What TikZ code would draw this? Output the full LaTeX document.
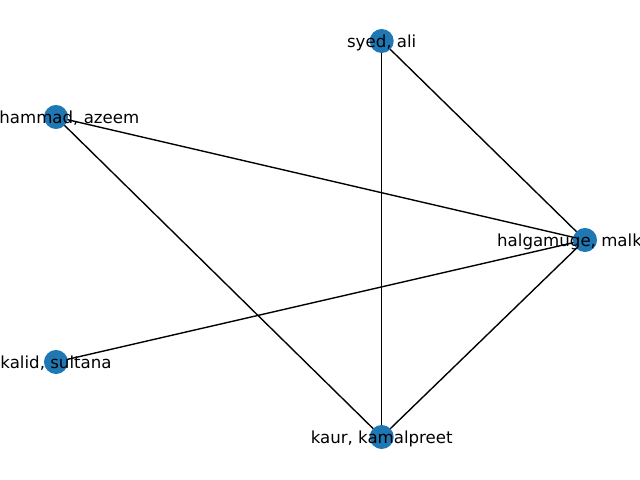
\documentclass[tikz,border=0pt]{standalone}
\usepackage{fontspec}
\setmainfont{DejaVu Sans}
\definecolor{nxblue}{HTML}{1F77B4}
\begin{document}
\begin{tikzpicture}[x=0.01in,y=-0.01in,
  vertex/.style={circle,fill=nxblue,minimum size=0.24in,inner sep=0pt},
  lbl/.style={font=\fontsize{12pt}{14pt}\selectfont,inner sep=0pt,anchor=center,yshift=-0.015in},
  edge/.style={black,line width=1pt}]
\useasboundingbox (0,0) rectangle (640,480);
\clip (0,0) rectangle (640,480);
\coordinate (syed) at (381.7,41);
\coordinate (muh) at (56,117);
\coordinate (hal) at (585,240);
\coordinate (kal) at (56,362);
\coordinate (kaur) at (381.7,437);
\draw[edge] (syed) -- (hal);
\draw[edge] (syed) -- (kaur);
\draw[edge] (muh) -- (hal);
\draw[edge] (muh) -- (kaur);
\draw[edge] (hal) -- (kal);
\draw[edge] (hal) -- (kaur);
\node[vertex] (nsyed) at (syed) {};
\node[vertex] (nmuh) at (muh) {};
\node[vertex] (nhal) at (hal) {};
\node[vertex] (nkal) at (kal) {};
\node[vertex] (nkaur) at (kaur) {};
\node[lbl] (tsyed) at (syed) {syed, ali};
\node[lbl] (tmuh) at (muh) {muhammad, azeem};
\node[lbl] (thal) at (hal) {halgamuge, malka n.};
\node[lbl] (tkal) at (kal) {kalid, sultana};
\node[lbl] (tkaur) at (kaur) {kaur, kamalpreet};
\end{tikzpicture}
\end{document}
